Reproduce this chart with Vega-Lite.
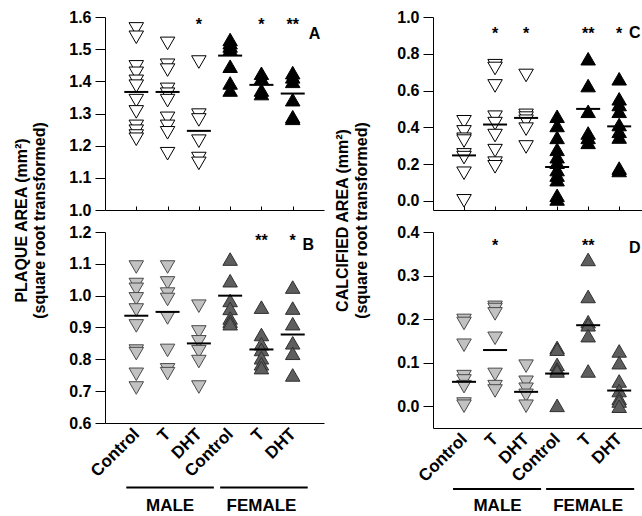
{
  "$schema": "https://vega.github.io/schema/vega-lite/v6.json",
  "padding": {"left": 13, "top": 9, "right": 0, "bottom": 0},
  "bounds": "flush",
  "columns": 2,
  "align": "each",
  "spacing": {"row": 22, "column": 109},
  "resolve": {"scale": {"fill": "independent", "stroke": "independent", "shape": "independent", "x": "independent", "y": "independent"}},
  "config": {
    "font": "Liberation Sans",
    "view": {"stroke": null},
    "axis": {"domainColor": "black", "tickColor": "black", "labelColor": "black", "labelFont": "Liberation Sans", "labelFontWeight": "bold", "labelFontSize": 16, "titleFont": "Liberation Sans", "titleFontWeight": "bold", "titleFontSize": 16, "titleColor": "black", "grid": false, "domainWidth": 1, "tickWidth": 1, "labelOverlap": false},
    "text": {"font": "Liberation Sans", "fontWeight": "bold", "color": "black"}
  },
  "datasets": {
    "points": [
      {"panel":"A","cat":1,"sex":"M","value":1.563},{"panel":"A","cat":1,"sex":"M","value":1.537},{"panel":"A","cat":1,"sex":"M","value":1.445},{"panel":"A","cat":1,"sex":"M","value":1.425},{"panel":"A","cat":1,"sex":"M","value":1.40},{"panel":"A","cat":1,"sex":"M","value":1.385},{"panel":"A","cat":1,"sex":"M","value":1.34},{"panel":"A","cat":1,"sex":"M","value":1.305},{"panel":"A","cat":1,"sex":"M","value":1.26},{"panel":"A","cat":1,"sex":"M","value":1.245},{"panel":"A","cat":1,"sex":"M","value":1.23},{"panel":"A","cat":1,"sex":"M","value":1.22},
      {"panel":"A","cat":2,"sex":"M","value":1.518},{"panel":"A","cat":2,"sex":"M","value":1.45},{"panel":"A","cat":2,"sex":"M","value":1.435},{"panel":"A","cat":2,"sex":"M","value":1.375},{"panel":"A","cat":2,"sex":"M","value":1.36},{"panel":"A","cat":2,"sex":"M","value":1.34},{"panel":"A","cat":2,"sex":"M","value":1.285},{"panel":"A","cat":2,"sex":"M","value":1.26},{"panel":"A","cat":2,"sex":"M","value":1.24},{"panel":"A","cat":2,"sex":"M","value":1.175},
      {"panel":"A","cat":3,"sex":"M","value":1.46},{"panel":"A","cat":3,"sex":"M","value":1.295},{"panel":"A","cat":3,"sex":"M","value":1.28},{"panel":"A","cat":3,"sex":"M","value":1.214},{"panel":"A","cat":3,"sex":"M","value":1.16},{"panel":"A","cat":3,"sex":"M","value":1.145},
      {"panel":"A","cat":4,"sex":"F","value":1.53},{"panel":"A","cat":4,"sex":"F","value":1.52},{"panel":"A","cat":4,"sex":"F","value":1.51},{"panel":"A","cat":4,"sex":"F","value":1.50},{"panel":"A","cat":4,"sex":"F","value":1.447},{"panel":"A","cat":4,"sex":"F","value":1.395},{"panel":"A","cat":4,"sex":"F","value":1.373},
      {"panel":"A","cat":5,"sex":"F","value":1.425},{"panel":"A","cat":5,"sex":"F","value":1.41},{"panel":"A","cat":5,"sex":"F","value":1.373},{"panel":"A","cat":5,"sex":"F","value":1.362},
      {"panel":"A","cat":6,"sex":"F","value":1.427},{"panel":"A","cat":6,"sex":"F","value":1.414},{"panel":"A","cat":6,"sex":"F","value":1.40},{"panel":"A","cat":6,"sex":"F","value":1.343},{"panel":"A","cat":6,"sex":"F","value":1.29},{"panel":"A","cat":6,"sex":"F","value":1.285},

      {"panel":"B","cat":1,"sex":"M","value":1.09},{"panel":"B","cat":1,"sex":"M","value":1.035},{"panel":"B","cat":1,"sex":"M","value":1.02},{"panel":"B","cat":1,"sex":"M","value":0.99},{"panel":"B","cat":1,"sex":"M","value":0.955},{"panel":"B","cat":1,"sex":"M","value":0.905},{"panel":"B","cat":1,"sex":"M","value":0.826},{"panel":"B","cat":1,"sex":"M","value":0.818},{"panel":"B","cat":1,"sex":"M","value":0.753},{"panel":"B","cat":1,"sex":"M","value":0.71},
      {"panel":"B","cat":2,"sex":"M","value":1.09},{"panel":"B","cat":2,"sex":"M","value":1.04},{"panel":"B","cat":2,"sex":"M","value":1.005},{"panel":"B","cat":2,"sex":"M","value":0.988},{"panel":"B","cat":2,"sex":"M","value":0.93},{"panel":"B","cat":2,"sex":"M","value":0.828},{"panel":"B","cat":2,"sex":"M","value":0.767},{"panel":"B","cat":2,"sex":"M","value":0.755},
      {"panel":"B","cat":3,"sex":"M","value":0.967},{"panel":"B","cat":3,"sex":"M","value":0.886},{"panel":"B","cat":3,"sex":"M","value":0.855},{"panel":"B","cat":3,"sex":"M","value":0.824},{"panel":"B","cat":3,"sex":"M","value":0.793},{"panel":"B","cat":3,"sex":"M","value":0.713},
      {"panel":"B","cat":4,"sex":"F","value":1.115},{"panel":"B","cat":4,"sex":"F","value":1.047},{"panel":"B","cat":4,"sex":"F","value":0.985},{"panel":"B","cat":4,"sex":"F","value":0.96},{"panel":"B","cat":4,"sex":"F","value":0.93},{"panel":"B","cat":4,"sex":"F","value":0.92},{"panel":"B","cat":4,"sex":"F","value":0.912},
      {"panel":"B","cat":5,"sex":"F","value":0.964},{"panel":"B","cat":5,"sex":"F","value":0.878},{"panel":"B","cat":5,"sex":"F","value":0.849},{"panel":"B","cat":5,"sex":"F","value":0.831},{"panel":"B","cat":5,"sex":"F","value":0.805},{"panel":"B","cat":5,"sex":"F","value":0.786},{"panel":"B","cat":5,"sex":"F","value":0.774},
      {"panel":"B","cat":6,"sex":"F","value":1.027},{"panel":"B","cat":6,"sex":"F","value":0.961},{"panel":"B","cat":6,"sex":"F","value":0.912},{"panel":"B","cat":6,"sex":"F","value":0.852},{"panel":"B","cat":6,"sex":"F","value":0.819},{"panel":"B","cat":6,"sex":"F","value":0.751},

      {"panel":"C","cat":1,"sex":"M","value":0.43},{"panel":"C","cat":1,"sex":"M","value":0.375},{"panel":"C","cat":1,"sex":"M","value":0.335},{"panel":"C","cat":1,"sex":"M","value":0.325},{"panel":"C","cat":1,"sex":"M","value":0.25},{"panel":"C","cat":1,"sex":"M","value":0.235},{"panel":"C","cat":1,"sex":"M","value":0.15},{"panel":"C","cat":1,"sex":"M","value":0.0},
      {"panel":"C","cat":2,"sex":"M","value":0.735},{"panel":"C","cat":2,"sex":"M","value":0.72},{"panel":"C","cat":2,"sex":"M","value":0.625},{"panel":"C","cat":2,"sex":"M","value":0.455},{"panel":"C","cat":2,"sex":"M","value":0.42},{"panel":"C","cat":2,"sex":"M","value":0.355},{"panel":"C","cat":2,"sex":"M","value":0.273},{"panel":"C","cat":2,"sex":"M","value":0.205},{"panel":"C","cat":2,"sex":"M","value":0.185},
      {"panel":"C","cat":3,"sex":"M","value":0.682},{"panel":"C","cat":3,"sex":"M","value":0.465},{"panel":"C","cat":3,"sex":"M","value":0.45},{"panel":"C","cat":3,"sex":"M","value":0.433},{"panel":"C","cat":3,"sex":"M","value":0.39},{"panel":"C","cat":3,"sex":"M","value":0.293},
      {"panel":"C","cat":4,"sex":"F","value":0.46},{"panel":"C","cat":4,"sex":"F","value":0.41},{"panel":"C","cat":4,"sex":"F","value":0.345},{"panel":"C","cat":4,"sex":"F","value":0.28},{"panel":"C","cat":4,"sex":"F","value":0.24},{"panel":"C","cat":4,"sex":"F","value":0.21},{"panel":"C","cat":4,"sex":"F","value":0.17},{"panel":"C","cat":4,"sex":"F","value":0.14},{"panel":"C","cat":4,"sex":"F","value":0.115},{"panel":"C","cat":4,"sex":"F","value":0.03},{"panel":"C","cat":4,"sex":"F","value":0.01},
      {"panel":"C","cat":5,"sex":"F","value":0.773},{"panel":"C","cat":5,"sex":"F","value":0.627},{"panel":"C","cat":5,"sex":"F","value":0.487},{"panel":"C","cat":5,"sex":"F","value":0.369},{"panel":"C","cat":5,"sex":"F","value":0.345},{"panel":"C","cat":5,"sex":"F","value":0.318},
      {"panel":"C","cat":6,"sex":"F","value":0.664},{"panel":"C","cat":6,"sex":"F","value":0.555},{"panel":"C","cat":6,"sex":"F","value":0.524},{"panel":"C","cat":6,"sex":"F","value":0.487},{"panel":"C","cat":6,"sex":"F","value":0.415},{"panel":"C","cat":6,"sex":"F","value":0.378},{"panel":"C","cat":6,"sex":"F","value":0.347},{"panel":"C","cat":6,"sex":"F","value":0.178},{"panel":"C","cat":6,"sex":"F","value":0.165},

      {"panel":"D","cat":1,"sex":"M","value":0.197},{"panel":"D","cat":1,"sex":"M","value":0.19},{"panel":"D","cat":1,"sex":"M","value":0.14},{"panel":"D","cat":1,"sex":"M","value":0.068},{"panel":"D","cat":1,"sex":"M","value":0.058},{"panel":"D","cat":1,"sex":"M","value":0.045},{"panel":"D","cat":1,"sex":"M","value":0.005},{"panel":"D","cat":1,"sex":"M","value":0.0},
      {"panel":"D","cat":2,"sex":"M","value":0.227},{"panel":"D","cat":2,"sex":"M","value":0.222},{"panel":"D","cat":2,"sex":"M","value":0.212},{"panel":"D","cat":2,"sex":"M","value":0.156},{"panel":"D","cat":2,"sex":"M","value":0.073},{"panel":"D","cat":2,"sex":"M","value":0.045},{"panel":"D","cat":2,"sex":"M","value":0.035},
      {"panel":"D","cat":3,"sex":"M","value":0.092},{"panel":"D","cat":3,"sex":"M","value":0.055},{"panel":"D","cat":3,"sex":"M","value":0.039},{"panel":"D","cat":3,"sex":"M","value":0.025},{"panel":"D","cat":3,"sex":"M","value":0.0},
      {"panel":"D","cat":4,"sex":"F","value":0.135},{"panel":"D","cat":4,"sex":"F","value":0.131},{"panel":"D","cat":4,"sex":"F","value":0.096},{"panel":"D","cat":4,"sex":"F","value":0.086},{"panel":"D","cat":4,"sex":"F","value":0.081},{"panel":"D","cat":4,"sex":"F","value":0.002},
      {"panel":"D","cat":5,"sex":"F","value":0.337},{"panel":"D","cat":5,"sex":"F","value":0.252},{"panel":"D","cat":5,"sex":"F","value":0.194},{"panel":"D","cat":5,"sex":"F","value":0.187},{"panel":"D","cat":5,"sex":"F","value":0.162},{"panel":"D","cat":5,"sex":"F","value":0.081},
      {"panel":"D","cat":6,"sex":"F","value":0.127},{"panel":"D","cat":6,"sex":"F","value":0.1},{"panel":"D","cat":6,"sex":"F","value":0.058},{"panel":"D","cat":6,"sex":"F","value":0.036},{"panel":"D","cat":6,"sex":"F","value":0.018},{"panel":"D","cat":6,"sex":"F","value":0.012},{"panel":"D","cat":6,"sex":"F","value":0.0}
    ],
    "means": [
      {"panel":"A","cat":1,"value":1.367},{"panel":"A","cat":2,"value":1.367},{"panel":"A","cat":3,"value":1.246},{"panel":"A","cat":4,"value":1.48},{"panel":"A","cat":5,"value":1.389},{"panel":"A","cat":6,"value":1.362},
      {"panel":"B","cat":1,"value":0.937},{"panel":"B","cat":2,"value":0.949},{"panel":"B","cat":3,"value":0.85},{"panel":"B","cat":4,"value":1.0},{"panel":"B","cat":5,"value":0.831},{"panel":"B","cat":6,"value":0.878},
      {"panel":"C","cat":1,"value":0.247},{"panel":"C","cat":2,"value":0.415},{"panel":"C","cat":3,"value":0.451},{"panel":"C","cat":4,"value":0.184},{"panel":"C","cat":5,"value":0.5},{"panel":"C","cat":6,"value":0.405},
      {"panel":"D","cat":1,"value":0.056},{"panel":"D","cat":2,"value":0.129},{"panel":"D","cat":3,"value":0.033},{"panel":"D","cat":4,"value":0.075},{"panel":"D","cat":5,"value":0.186},{"panel":"D","cat":6,"value":0.036}
    ],
    "stars": [
      {"panel":"A","cat":3,"label":"*"},{"panel":"A","cat":5,"label":"*"},{"panel":"A","cat":6,"label":"**"},
      {"panel":"B","cat":5,"label":"**"},{"panel":"B","cat":6,"label":"*"},
      {"panel":"C","cat":2,"label":"*"},{"panel":"C","cat":3,"label":"*"},{"panel":"C","cat":5,"label":"**"},{"panel":"C","cat":6,"label":"*"},
      {"panel":"D","cat":2,"label":"*"},{"panel":"D","cat":5,"label":"**"}
    ],
    "groups": [
      {"group":"MALE","first":1,"last":3,"mid":2.08},
      {"group":"FEMALE","first":4,"last":6,"mid":5.0}
    ]
  },
  "concat": [
    {
      "width": 219, "height": 193,
      "resolve": {"axis": {"x": "independent", "y": "independent"}},
      "layer": [
        {"data": {"name": "points"}, "transform": [{"filter": "datum.panel === 'A'"}],
         "mark": {"type": "point", "filled": true, "size": 210, "strokeWidth": 1, "opacity": 1},
         "encoding": {
           "x": {"field": "cat", "type": "quantitative", "scale": {"domain": [0, 7], "nice": false, "zero": false}, "axis": {"values": [1,2,3,4,5,6], "labels": false, "title": null, "tickSize": -4}},
           "y": {"field": "value", "type": "quantitative", "scale": {"domain": [1.0, 1.6], "nice": false, "zero": false}, "axis": {"values": [1.0,1.1,1.2,1.3,1.4,1.5,1.6], "format": ".1f", "labelOverlap": false, "tickSize": 10, "labelPadding": 4, "title": ["PLAQUE AREA (mm²)", "(square root transformed)"], "titleX": -84, "titleY": 203, "titleAngle": -90, "titleAlign": "center", "titleBaseline": "middle", "titleLineHeight": 18}},
           "shape": {"field": "sex", "type": "nominal", "scale": {"domain": ["M","F"], "range": ["triangle-down","triangle-up"]}, "legend": null},
           "fill": {"field": "sex", "type": "nominal", "scale": {"domain": ["M","F"], "range": ["#ffffff","#000000"]}, "legend": null},
           "stroke": {"field": "sex", "type": "nominal", "scale": {"domain": ["M","F"], "range": ["#000000","#000000"]}, "legend": null}}},
        {"data": {"name": "means"}, "transform": [{"filter": "datum.panel === 'A'"}],
         "mark": {"type": "tick", "orient": "horizontal", "size": 24, "thickness": 2, "color": "black", "opacity": 1},
         "encoding": {
           "x": {"field": "cat", "type": "quantitative", "scale": {"domain": [0, 7], "nice": false, "zero": false}, "axis": null},
           "y": {"field": "value", "type": "quantitative", "scale": {"domain": [1.0, 1.6], "nice": false, "zero": false}, "axis": null}}},
        {"data": {"name": "stars"}, "transform": [{"filter": "datum.panel === 'A'"}],
         "mark": {"type": "text", "fontSize": 16, "baseline": "middle", "align": "center"},
         "encoding": {
           "x": {"field": "cat", "type": "quantitative", "scale": {"domain": [0, 7], "nice": false, "zero": false}, "axis": null},
           "y": {"datum": 1.575, "type": "quantitative", "scale": {"domain": [1.0, 1.6], "nice": false, "zero": false}, "axis": null},
           "text": {"field": "label"}}},
        {"data": {"values": [{"label": "A"}]},
         "mark": {"type": "text", "fontSize": 16, "baseline": "middle", "align": "center"},
         "encoding": {
           "x": {"datum": 6.7, "type": "quantitative", "scale": {"domain": [0, 7], "nice": false, "zero": false}, "axis": null},
           "y": {"datum": 1.547, "type": "quantitative", "scale": {"domain": [1.0, 1.6], "nice": false, "zero": false}, "axis": null},
           "text": {"field": "label"}}}
      ]
    },
    {
      "width": 211, "height": 193,
      "resolve": {"axis": {"x": "independent", "y": "independent"}},
      "layer": [
        {"data": {"name": "points"}, "transform": [{"filter": "datum.panel === 'C'"}],
         "mark": {"type": "point", "filled": true, "size": 210, "strokeWidth": 1, "opacity": 1},
         "encoding": {
           "x": {"field": "cat", "type": "quantitative", "scale": {"domain": [0, 6.8], "nice": false, "zero": false}, "axis": {"values": [1,2,3,4,5,6], "labels": false, "title": null, "tickSize": -4}},
           "y": {"field": "value", "type": "quantitative", "scale": {"domain": [-0.05, 1.0], "nice": false, "zero": false}, "axis": {"values": [0.0,0.2,0.4,0.6,0.8,1.0], "format": ".1f", "labelOverlap": false, "tickSize": 10, "labelPadding": 4, "title": ["CALCIFIED AREA (mm²)", "(square root transformed)"], "titleX": -91, "titleY": 203, "titleAngle": -90, "titleAlign": "center", "titleBaseline": "middle", "titleLineHeight": 19}},
           "shape": {"field": "sex", "type": "nominal", "scale": {"domain": ["M","F"], "range": ["triangle-down","triangle-up"]}, "legend": null},
           "fill": {"field": "sex", "type": "nominal", "scale": {"domain": ["M","F"], "range": ["#ffffff","#000000"]}, "legend": null},
           "stroke": {"field": "sex", "type": "nominal", "scale": {"domain": ["M","F"], "range": ["#000000","#000000"]}, "legend": null}}},
        {"data": {"name": "means"}, "transform": [{"filter": "datum.panel === 'C'"}],
         "mark": {"type": "tick", "orient": "horizontal", "size": 24, "thickness": 2, "color": "black", "opacity": 1},
         "encoding": {
           "x": {"field": "cat", "type": "quantitative", "scale": {"domain": [0, 6.8], "nice": false, "zero": false}, "axis": null},
           "y": {"field": "value", "type": "quantitative", "scale": {"domain": [-0.05, 1.0], "nice": false, "zero": false}, "axis": null}}},
        {"data": {"name": "stars"}, "transform": [{"filter": "datum.panel === 'C'"}],
         "mark": {"type": "text", "fontSize": 16, "baseline": "middle", "align": "center"},
         "encoding": {
           "x": {"field": "cat", "type": "quantitative", "scale": {"domain": [0, 6.8], "nice": false, "zero": false}, "axis": null},
           "y": {"datum": 0.908, "type": "quantitative", "scale": {"domain": [-0.05, 1.0], "nice": false, "zero": false}, "axis": null},
           "text": {"field": "label"}}},
        {"data": {"values": [{"label": "C"}]},
         "mark": {"type": "text", "fontSize": 16, "baseline": "middle", "align": "center"},
         "encoding": {
           "x": {"datum": 6.5, "type": "quantitative", "scale": {"domain": [0, 6.8], "nice": false, "zero": false}, "axis": null},
           "y": {"datum": 0.913, "type": "quantitative", "scale": {"domain": [-0.05, 1.0], "nice": false, "zero": false}, "axis": null},
           "text": {"field": "label"}}}
      ]
    },
    {
      "width": 219, "height": 191,
      "resolve": {"axis": {"x": "independent", "y": "independent"}},
      "layer": [
        {"data": {"name": "points"}, "transform": [{"filter": "datum.panel === 'B'"}],
         "mark": {"type": "point", "filled": true, "size": 210, "strokeWidth": 1, "opacity": 1},
         "encoding": {
           "x": {"field": "cat", "type": "quantitative", "scale": {"domain": [0, 7], "nice": false, "zero": false}, "axis": {"values": [1,2,3,4,5,6], "labelExpr": "['','Control','T','DHT','Control','T','DHT'][datum.value]", "labelAngle": -45, "labelAlign": "right", "labelBaseline": "middle", "labelFontSize": 17, "labelPadding": 8, "labelOverlap": false, "title": null, "ticks": false}},
           "y": {"field": "value", "type": "quantitative", "scale": {"domain": [0.6, 1.2], "nice": false, "zero": false}, "axis": {"values": [0.6,0.7,0.8,0.9,1.0,1.1,1.2], "format": ".1f", "labelOverlap": false, "tickSize": 10, "labelPadding": 4, "title": null}},
           "shape": {"field": "sex", "type": "nominal", "scale": {"domain": ["M","F"], "range": ["triangle-down","triangle-up"]}, "legend": null},
           "fill": {"field": "sex", "type": "nominal", "scale": {"domain": ["M","F"], "range": ["#c2c2c2","#5e5e5e"]}, "legend": null},
           "stroke": {"field": "sex", "type": "nominal", "scale": {"domain": ["M","F"], "range": ["#4a4a4a","#303030"]}, "legend": null}}},
        {"data": {"name": "means"}, "transform": [{"filter": "datum.panel === 'B'"}],
         "mark": {"type": "tick", "orient": "horizontal", "size": 24, "thickness": 2, "color": "black", "opacity": 1},
         "encoding": {
           "x": {"field": "cat", "type": "quantitative", "scale": {"domain": [0, 7], "nice": false, "zero": false}, "axis": null},
           "y": {"field": "value", "type": "quantitative", "scale": {"domain": [0.6, 1.2], "nice": false, "zero": false}, "axis": null}}},
        {"data": {"name": "stars"}, "transform": [{"filter": "datum.panel === 'B'"}],
         "mark": {"type": "text", "fontSize": 16, "baseline": "middle", "align": "center"},
         "encoding": {
           "x": {"field": "cat", "type": "quantitative", "scale": {"domain": [0, 7], "nice": false, "zero": false}, "axis": null},
           "y": {"datum": 1.172, "type": "quantitative", "scale": {"domain": [0.6, 1.2], "nice": false, "zero": false}, "axis": null},
           "text": {"field": "label"}}},
        {"data": {"values": [{"label": "B"}]},
         "mark": {"type": "text", "fontSize": 16, "baseline": "middle", "align": "center"},
         "encoding": {
           "x": {"datum": 6.5, "type": "quantitative", "scale": {"domain": [0, 7], "nice": false, "zero": false}, "axis": null},
           "y": {"datum": 1.159, "type": "quantitative", "scale": {"domain": [0.6, 1.2], "nice": false, "zero": false}, "axis": null},
           "text": {"field": "label"}}},
        {"data": {"name": "groups"},
         "mark": {"type": "rule", "strokeWidth": 2, "color": "black", "xOffset": -10, "x2Offset": 15},
         "encoding": {
           "x": {"field": "first", "type": "quantitative", "scale": {"domain": [0, 7], "nice": false, "zero": false}, "axis": null},
           "x2": {"field": "last"},
           "y": {"datum": 0.397, "type": "quantitative", "scale": {"domain": [0.6, 1.2], "nice": false, "zero": false}, "axis": null}}},
        {"data": {"name": "groups"},
         "mark": {"type": "text", "fontSize": 17, "baseline": "middle", "align": "center"},
         "encoding": {
           "x": {"field": "mid", "type": "quantitative", "scale": {"domain": [0, 7], "nice": false, "zero": false}, "axis": null},
           "y": {"datum": 0.338, "type": "quantitative", "scale": {"domain": [0.6, 1.2], "nice": false, "zero": false}, "axis": null},
           "text": {"field": "group"}}}
      ]
    },
    {
      "width": 211, "height": 196,
      "resolve": {"axis": {"x": "independent", "y": "independent"}},
      "layer": [
        {"data": {"name": "points"}, "transform": [{"filter": "datum.panel === 'D'"}],
         "mark": {"type": "point", "filled": true, "size": 210, "strokeWidth": 1, "opacity": 1},
         "encoding": {
           "x": {"field": "cat", "type": "quantitative", "scale": {"domain": [0, 6.8], "nice": false, "zero": false}, "axis": {"values": [1,2,3,4,5,6], "labelExpr": "['','Control','T','DHT','Control','T','DHT'][datum.value]", "labelAngle": -45, "labelAlign": "right", "labelBaseline": "middle", "labelFontSize": 17, "labelPadding": 8, "labelOverlap": false, "title": null, "ticks": false}},
           "y": {"field": "value", "type": "quantitative", "scale": {"domain": [-0.05, 0.4], "nice": false, "zero": false}, "axis": {"values": [0.0,0.1,0.2,0.3,0.4], "format": ".1f", "labelOverlap": false, "tickSize": 10, "labelPadding": 4, "title": null}},
           "shape": {"field": "sex", "type": "nominal", "scale": {"domain": ["M","F"], "range": ["triangle-down","triangle-up"]}, "legend": null},
           "fill": {"field": "sex", "type": "nominal", "scale": {"domain": ["M","F"], "range": ["#c2c2c2","#5e5e5e"]}, "legend": null},
           "stroke": {"field": "sex", "type": "nominal", "scale": {"domain": ["M","F"], "range": ["#4a4a4a","#303030"]}, "legend": null}}},
        {"data": {"name": "means"}, "transform": [{"filter": "datum.panel === 'D'"}],
         "mark": {"type": "tick", "orient": "horizontal", "size": 24, "thickness": 2, "color": "black", "opacity": 1},
         "encoding": {
           "x": {"field": "cat", "type": "quantitative", "scale": {"domain": [0, 6.8], "nice": false, "zero": false}, "axis": null},
           "y": {"field": "value", "type": "quantitative", "scale": {"domain": [-0.05, 0.4], "nice": false, "zero": false}, "axis": null}}},
        {"data": {"name": "stars"}, "transform": [{"filter": "datum.panel === 'D'"}],
         "mark": {"type": "text", "fontSize": 16, "baseline": "middle", "align": "center"},
         "encoding": {
           "x": {"field": "cat", "type": "quantitative", "scale": {"domain": [0, 6.8], "nice": false, "zero": false}, "axis": null},
           "y": {"datum": 0.368, "type": "quantitative", "scale": {"domain": [-0.05, 0.4], "nice": false, "zero": false}, "axis": null},
           "text": {"field": "label"}}},
        {"data": {"values": [{"label": "D"}]},
         "mark": {"type": "text", "fontSize": 16, "baseline": "middle", "align": "center"},
         "encoding": {
           "x": {"datum": 6.5, "type": "quantitative", "scale": {"domain": [0, 6.8], "nice": false, "zero": false}, "axis": null},
           "y": {"datum": 0.363, "type": "quantitative", "scale": {"domain": [-0.05, 0.4], "nice": false, "zero": false}, "axis": null},
           "text": {"field": "label"}}},
        {"data": {"name": "groups"},
         "mark": {"type": "rule", "strokeWidth": 2, "color": "black", "xOffset": -11, "x2Offset": 15},
         "encoding": {
           "x": {"field": "first", "type": "quantitative", "scale": {"domain": [0, 6.8], "nice": false, "zero": false}, "axis": null},
           "x2": {"field": "last"},
           "y": {"datum": -0.19, "type": "quantitative", "scale": {"domain": [-0.05, 0.4], "nice": false, "zero": false}, "axis": null}}},
        {"data": {"name": "groups"},
         "mark": {"type": "text", "fontSize": 17, "baseline": "middle", "align": "center"},
         "encoding": {
           "x": {"field": "mid", "type": "quantitative", "scale": {"domain": [0, 6.8], "nice": false, "zero": false}, "axis": null},
           "y": {"datum": -0.229, "type": "quantitative", "scale": {"domain": [-0.05, 0.4], "nice": false, "zero": false}, "axis": null},
           "text": {"field": "group"}}}
      ]
    }
  ]
}
